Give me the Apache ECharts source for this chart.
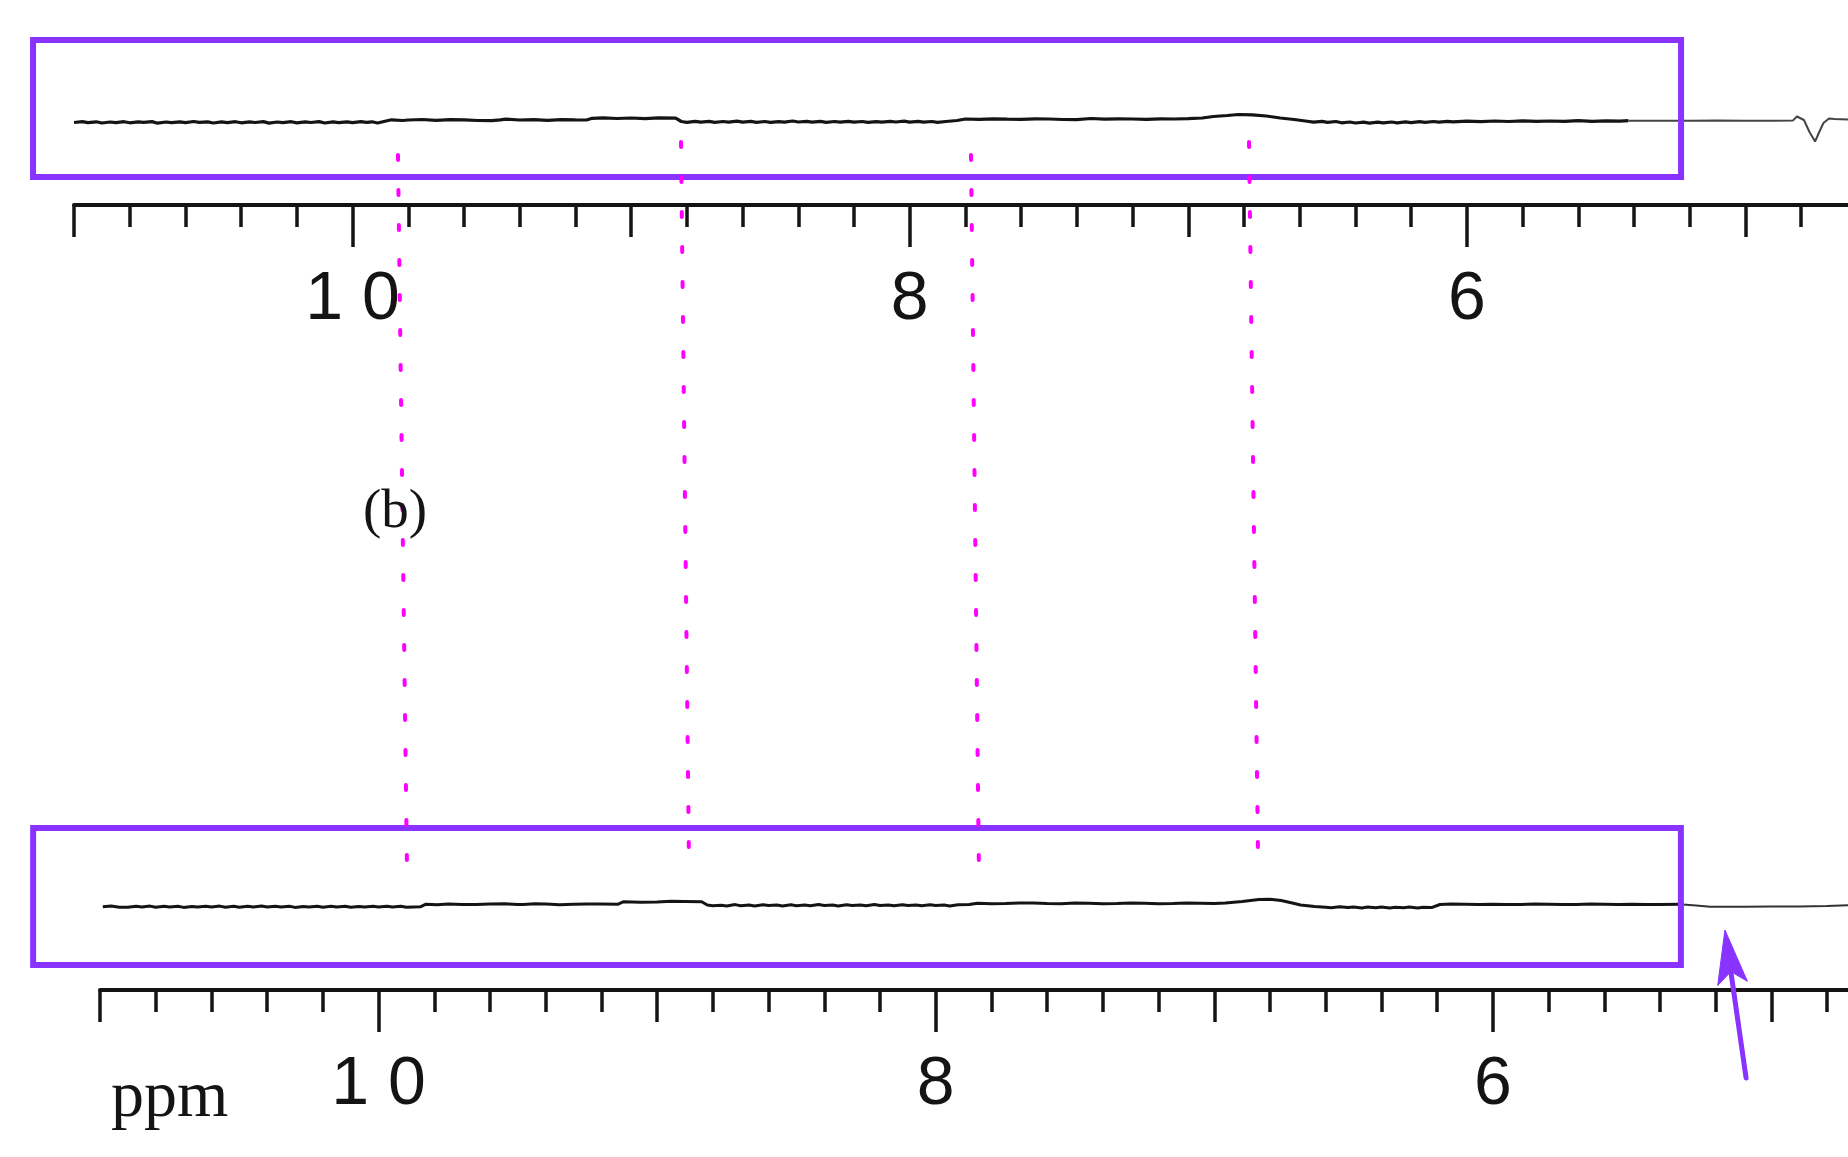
<!DOCTYPE html>
<html>
<head>
<meta charset="utf-8">
<script src="https://cdn.jsdelivr.net/npm/echarts@6/dist/echarts.min.js"></script>
<style>
html,body{margin:0;padding:0;background:#ffffff;}
#chart{width:1848px;height:1157px;}
</style>
</head>
<body>
<div id="chart"></div>
<script>
// ---------- DATA (ppm, intensity in arbitrary units) ----------
const axisMinPpm = 4;
const axisMaxPpm = 11;
const majorLabelValues = [6, 8, 10];

// upper trace, inside highlighted region
const topSpectrumInBox = [
  [11.00,-2.5],[10.97,-1.6],[10.95,-2.6],[10.92,-1.8],[10.90,-3.0],[10.87,-2.0],[10.85,-2.6],[10.82,-1.7],
  [10.80,-2.8],[10.77,-1.9],[10.75,-2.4],[10.72,-1.6],[10.70,-3.2],[10.67,-2.0],[10.65,-2.7],[10.62,-1.8],
  [10.60,-2.6],[10.57,-1.5],[10.55,-2.4],[10.52,-1.9],[10.50,-3.0],[10.47,-1.8],[10.45,-2.6],[10.42,-1.7],
  [10.40,-2.8],[10.37,-1.9],[10.35,-2.5],[10.32,-1.6],[10.30,-3.1],[10.27,-2.0],[10.25,-2.6],[10.22,-1.7],
  [10.20,-2.9],[10.17,-1.8],[10.15,-2.5],[10.12,-1.6],[10.10,-3.0],[10.07,-1.9],[10.05,-2.6],[10.02,-1.8],
  [10.00,-2.7],[9.97,-1.7],[9.95,-2.4],[9.93,-1.8],[9.91,-3.0],[9.88,-1.0],[9.86,0.2],[9.82,-0.5],
  [9.80,0.0],[9.75,0.5],[9.70,-0.4],[9.65,0.3],[9.60,0.2],[9.55,-0.5],[9.50,-0.6],[9.47,0.2],
  [9.45,0.8],[9.40,0.0],[9.35,0.4],[9.30,-0.3],[9.25,0.3],[9.20,0.1],[9.16,0.0],[9.14,1.7],
  [9.10,2.2],[9.05,1.5],[9.00,2.0],[8.95,1.4],[8.90,2.1],[8.84,1.8],[8.82,-1.5],[8.80,-2.3],
  [8.77,-1.4],[8.75,-2.2],[8.72,-1.4],[8.70,-2.4],[8.67,-1.5],[8.65,-2.2],[8.62,-1.2],[8.60,-2.1],
  [8.57,-1.4],[8.55,-2.3],[8.52,-1.5],[8.50,-2.4],[8.47,-1.6],[8.45,-2.2],[8.42,-1.0],[8.40,-2.0],
  [8.37,-1.3],[8.35,-2.2],[8.32,-1.4],[8.30,-2.3],[8.27,-1.5],[8.25,-2.1],[8.22,-1.3],[8.20,-2.2],
  [8.17,-1.5],[8.15,-2.4],[8.12,-1.6],[8.10,-2.2],[8.07,-1.4],[8.05,-2.0],[8.02,-1.2],[8.00,-2.1],
  [7.97,-1.4],[7.95,-2.2],[7.92,-1.5],[7.90,-2.3],[7.87,-1.5],[7.83,-0.5],[7.80,1.0],[7.75,0.6],
  [7.70,1.2],[7.65,0.8],[7.60,0.6],[7.55,1.1],[7.50,1.0],[7.45,0.5],[7.40,0.3],[7.35,1.5],
  [7.30,0.8],[7.25,1.2],[7.20,1.0],[7.15,0.7],[7.10,1.2],[7.05,1.0],[7.00,1.4],[6.95,2.0],
  [6.91,3.5],[6.86,4.5],[6.82,5.5],[6.77,5.2],[6.72,4.0],[6.67,2.0],[6.62,0.5],[6.58,-1.0],
  [6.55,-2.2],[6.52,-1.4],[6.50,-2.4],[6.47,-1.5],[6.45,-2.8],[6.42,-2.0],[6.40,-3.0],[6.37,-2.2],
  [6.35,-3.1],[6.32,-2.2],[6.30,-2.9],[6.27,-2.0],[6.25,-2.8],[6.22,-1.8],[6.20,-2.6],[6.17,-1.7],
  [6.15,-2.3],[6.12,-1.5],[6.10,-2.1],[6.07,-1.3],[6.05,-1.9],[6.00,-1.2],[5.95,-1.6],[5.90,-1.0],
  [5.85,-1.5],[5.80,-0.8],[5.75,-1.4],[5.70,-1.0],[5.65,-1.4],[5.60,-0.7],[5.55,-1.3],[5.50,-0.9],
  [5.45,-1.2],[5.42,-0.7]
];
// upper trace, outside the region (thin)
const topSpectrumOutside = [
  [5.42,-0.7],[5.30,-0.7],[5.20,-0.7],[5.10,-0.6],[5.00,-0.8],[4.90,-0.7],[4.83,-0.6],
  [4.815,3.5],[4.79,0.0],[4.77,-12],[4.75,-21.5],[4.735,-12],[4.72,-3],[4.70,1.5],[4.68,1.0],[4.63,0.5]
];

// lower trace, inside highlighted region
const bottomSpectrumInBox = [
  [10.99,-1.7],[10.96,-1.0],[10.93,-2.2],[10.90,-2.3],[10.87,-1.2],[10.85,-1.9],[10.82,-1.1],[10.80,-2.2],
  [10.77,-1.3],[10.75,-2.0],[10.72,-1.2],[10.70,-2.4],[10.67,-1.4],[10.65,-2.1],[10.62,-1.2],[10.60,-2.0],
  [10.57,-1.1],[10.55,-2.2],[10.52,-1.3],[10.50,-2.3],[10.47,-1.3],[10.45,-2.0],[10.42,-1.1],[10.40,-2.1],
  [10.37,-1.2],[10.35,-2.0],[10.32,-1.3],[10.30,-2.4],[10.27,-1.4],[10.25,-2.1],[10.22,-1.2],[10.20,-2.2],
  [10.17,-1.3],[10.15,-2.0],[10.12,-1.2],[10.10,-2.3],[10.07,-1.4],[10.05,-2.1],[10.02,-1.3],[10.00,-2.0],
  [9.97,-1.2],[9.95,-2.0],[9.92,-1.3],[9.90,-2.3],[9.85,-1.8],[9.83,0.8],[9.79,0.3],[9.75,1.0],
  [9.70,0.5],[9.65,0.6],[9.60,1.1],[9.55,1.2],[9.50,0.5],[9.48,0.4],[9.44,1.2],[9.40,0.9],
  [9.35,0.3],[9.30,0.7],[9.25,1.1],[9.20,1.0],[9.14,0.8],[9.12,3.3],[9.06,2.7],[9.00,3.0],
  [8.95,3.7],[8.90,3.6],[8.84,3.2],[8.82,0.0],[8.80,-0.8],[8.77,-0.2],[8.75,-0.9],[8.72,0.4],
  [8.70,-0.7],[8.67,-0.1],[8.65,-0.9],[8.62,0.3],[8.60,-0.6],[8.57,-0.1],[8.55,-0.9],[8.52,0.2],
  [8.50,-0.7],[8.47,0.0],[8.45,-0.8],[8.42,0.5],[8.40,-0.5],[8.37,0.0],[8.35,-0.9],[8.32,0.2],
  [8.30,-0.6],[8.27,0.1],[8.25,-0.8],[8.22,0.4],[8.20,-0.5],[8.17,0.1],[8.15,-0.7],[8.12,0.3],
  [8.10,-0.6],[8.07,0.0],[8.05,-0.8],[8.02,0.2],[8.00,-0.5],[7.97,0.0],[7.95,-0.9],[7.92,0.3],
  [7.88,0.5],[7.85,1.7],[7.80,1.2],[7.75,1.5],[7.70,2.1],[7.65,2.0],[7.60,1.4],[7.55,1.3],
  [7.50,2.0],[7.45,1.7],[7.40,1.3],[7.35,1.6],[7.30,2.0],[7.25,1.8],[7.20,1.3],[7.15,1.5],
  [7.10,1.9],[7.05,1.7],[7.00,1.4],[6.96,2.0],[6.90,3.5],[6.84,5.5],[6.80,5.7],[6.76,4.5],
  [6.72,2.0],[6.69,0.0],[6.64,-1.5],[6.60,-2.2],[6.58,-2.7],[6.55,-1.8],[6.52,-2.6],[6.50,-2.0],
  [6.47,-3.0],[6.45,-2.1],[6.42,-2.8],[6.40,-2.0],[6.37,-3.0],[6.35,-2.2],[6.32,-2.8],[6.30,-2.1],
  [6.27,-2.9],[6.25,-2.2],[6.22,-2.6],[6.19,0.5],[6.15,0.9],[6.10,0.7],[6.05,0.4],[6.00,0.8],
  [5.95,0.5],[5.90,0.6],[5.85,0.9],[5.80,0.8],[5.75,0.5],[5.70,0.6],[5.65,0.9],[5.60,0.7],
  [5.55,0.5],[5.50,0.8],[5.45,0.5],[5.40,0.6],[5.33,0.7]
];
// lower trace, outside the region (thin)
const bottomSpectrumOutside = [
  [5.33,0.7],[5.27,-0.5],[5.22,-1.7],[5.10,-1.8],[5.00,-1.6],[4.90,-1.5],[4.80,-1.0],[4.70,0.0]
];

// dotted guide lines: ppm + level where they start (upper panel) and end (lower panel)
const markerTopPpm = [9.837, 8.821, 7.780, 6.782];
const markerTopLevel = [-35, -22, -35, -22];
const markerBottomPpm = [9.898, 8.886, 7.845, 6.843];
const markerBottomLevel = [35, 50, 36, 50];

// highlight frames: [ppm start, ppm end], [level top, level bottom]
const topBoxPpm = [11.147, 5.231];
const topBoxLevel = [80, -57];
const bottomBoxPpm = [11.24, 5.325];
const bottomBoxLevel = [77, -60];

// arrow in lower panel: [ppm, level] for tip and tail
const arrowTip = [5.167, -25];
const arrowTail = [5.091, -173];

const panelLabel = '(b)';
const unitLabel = 'ppm';

// ---------- CHART ----------
const PURPLE = '#8833ff';
const MAGENTA = '#ff00ff';
const INK = '#141414';
const ppmWidth = 1950 / 7;

const chart = echarts.init(document.getElementById('chart'), null, {renderer: 'canvas'});

function tickAxis(gridIndex) {
  return {
    type: 'value', gridIndex: gridIndex, min: axisMinPpm, max: axisMaxPpm, inverse: true, interval: 1,
    position: 'bottom',
    axisLine: {show: true, onZero: false, lineStyle: {color: INK, width: 4}},
    axisTick: {show: true, length: 32, lineStyle: {color: INK, width: 3.5}},
    minorTick: {show: true, splitNumber: 5, length: 22, lineStyle: {color: INK, width: 3.5}},
    axisLabel: {show: false},
    splitLine: {show: false}, minorSplitLine: {show: false}
  };
}
function majorAxis(gridIndex) {
  return {
    type: 'value', gridIndex: gridIndex, min: axisMinPpm, max: axisMaxPpm + 1, inverse: true, interval: 2,
    position: 'bottom',
    axisLine: {show: false, onZero: false},
    axisTick: {show: true, length: 42, lineStyle: {color: INK, width: 3.5}},
    axisLabel: {
      show: true, margin: 61, color: INK, fontSize: 68, fontFamily: '"Liberation Sans", Arial, sans-serif',
      formatter: function (v) {
        if (majorLabelValues.indexOf(v) < 0) return '';
        return v === 10 ? '1 0' : String(v);
      }
    },
    splitLine: {show: false}
  };
}
function hiddenY(gridIndex, min, max) {
  return {type: 'value', gridIndex: gridIndex, min: min, max: max, show: false, splitLine: {show: false}};
}

chart.setOption({
  animation: false,
  backgroundColor: '#ffffff',
  grid: [
    {left: 74, right: -176, top: 40, height: 165, outerBoundsMode: 'none'},
    {left: 74 - ppmWidth, right: -176, top: 40, height: 165, outerBoundsMode: 'none'},
    {left: 100, right: -202, top: 828, height: 162, outerBoundsMode: 'none'},
    {left: 100 - ppmWidth, right: -202, top: 828, height: 162, outerBoundsMode: 'none'}
  ],
  xAxis: [tickAxis(0), majorAxis(1), tickAxis(2), majorAxis(3)],
  yAxis: [hiddenY(0, -85, 80), hiddenY(1, -85, 80), hiddenY(2, -85, 77), hiddenY(3, -85, 77)],
  series: [
    {type: 'line', xAxisIndex: 0, yAxisIndex: 0, data: topSpectrumInBox, showSymbol: false, symbol: 'none',
     lineStyle: {color: INK, width: 3.2}, z: 3},
    {type: 'line', xAxisIndex: 0, yAxisIndex: 0, data: topSpectrumOutside, showSymbol: false, symbol: 'none',
     lineStyle: {color: '#444444', width: 2}, z: 3},
    {type: 'line', xAxisIndex: 2, yAxisIndex: 2, data: bottomSpectrumInBox, showSymbol: false, symbol: 'none',
     lineStyle: {color: INK, width: 3}, z: 3},
    {type: 'line', xAxisIndex: 2, yAxisIndex: 2, data: bottomSpectrumOutside, showSymbol: false, symbol: 'none',
     lineStyle: {color: '#333333', width: 2}, z: 3}
  ]
});

function px(gridIndex, ppm, level) {
  return chart.convertToPixel({gridIndex: gridIndex}, [ppm, level]);
}
function frame(gridIndex, ppmRange, levelRange) {
  const a = px(gridIndex, ppmRange[0], levelRange[0]);
  const b = px(gridIndex, ppmRange[1], levelRange[1]);
  return {
    type: 'rect', z: 10,
    shape: {x: a[0], y: a[1], width: b[0] - a[0], height: b[1] - a[1]},
    style: {fill: 'none', stroke: PURPLE, lineWidth: 6}
  };
}

const graphics = [];
graphics.push(frame(0, topBoxPpm, topBoxLevel));
graphics.push(frame(2, bottomBoxPpm, bottomBoxLevel));

for (let i = 0; i < markerTopPpm.length; i++) {
  const p1 = px(0, markerTopPpm[i], markerTopLevel[i]);
  const p2 = px(2, markerBottomPpm[i], markerBottomLevel[i]);
  graphics.push({
    type: 'line', z: 12,
    shape: {x1: p1[0], y1: p1[1], x2: p2[0], y2: p2[1]},
    style: {stroke: MAGENTA, lineWidth: 4, lineDash: [5, 30], lineCap: 'round'}
  });
}

// arrow
(function () {
  const tip = px(2, arrowTip[0], arrowTip[1]);
  const tail = px(2, arrowTail[0], arrowTail[1]);
  const dx = tip[0] - tail[0], dy = tip[1] - tail[1];
  const len = Math.sqrt(dx * dx + dy * dy);
  const ux = dx / len, uy = dy / len;
  const nx = -uy, ny = ux;
  const headLen = 54, headHalf = 15, notch = 12;
  const base = [tip[0] - ux * headLen, tip[1] - uy * headLen];
  const notchPt = [tip[0] - ux * (headLen - notch), tip[1] - uy * (headLen - notch)];
  graphics.push({
    type: 'line', z: 12,
    shape: {x1: tail[0], y1: tail[1], x2: notchPt[0], y2: notchPt[1]},
    style: {stroke: PURPLE, lineWidth: 5, lineCap: 'round'}
  });
  graphics.push({
    type: 'polygon', z: 12,
    shape: {points: [tip, [base[0] + nx * headHalf, base[1] + ny * headHalf], notchPt,
                     [base[0] - nx * headHalf, base[1] - ny * headHalf]]},
    style: {fill: PURPLE, stroke: PURPLE, lineWidth: 1}
  });
})();

graphics.push({
  type: 'text', z: 12, x: 395, y: 513,
  style: {text: panelLabel, font: '55px "Liberation Serif", "Times New Roman", serif', fill: INK,
          align: 'center', verticalAlign: 'middle'}
});
graphics.push({
  type: 'text', z: 12, x: 111, y: 1099,
  style: {text: unitLabel, font: '66px "Liberation Serif", "Times New Roman", serif', fill: INK,
          align: 'left', verticalAlign: 'middle'}
});

chart.setOption({graphic: graphics});
</script>
</body>
</html>
